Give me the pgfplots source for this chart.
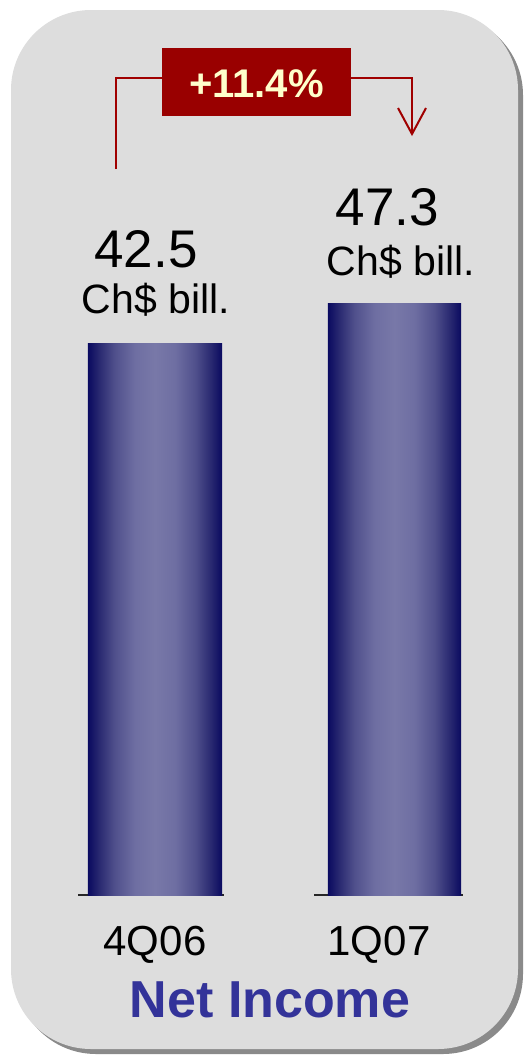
\documentclass[border=0pt]{standalone}
\usepackage{pgfplots}
\pgfplotsset{compat=1.18}
\usepackage{fontspec}
\setmainfont{Liberation Sans}
\definecolor{panel}{HTML}{DDDDDD}
\definecolor{shadowc}{HTML}{8A8A8A}
\definecolor{barEdge}{HTML}{0A0A60}
\definecolor{barA}{HTML}{282870}
\definecolor{barB}{HTML}{50508C}
\definecolor{barC}{HTML}{6E6EA2}
\definecolor{barMid}{HTML}{7878A8}
\definecolor{boxRed}{HTML}{990000}
\definecolor{lineRed}{HTML}{A00000}
\definecolor{cream}{HTML}{FFFFCC}
\definecolor{titleBlue}{HTML}{333399}
\pgfdeclarehorizontalshading{barshading}{100bp}{color(0bp)=(barEdge); color(25bp)=(barEdge); color(29bp)=(barA); color(35bp)=(barB); color(42.5bp)=(barC); color(50bp)=(barMid); color(57.5bp)=(barC); color(65bp)=(barB); color(71bp)=(barA); color(75bp)=(barEdge); color(100bp)=(barEdge)}
\pgfplotsset{
  netbar/.style={
    scale only axis, anchor=south west, clip=false,
    ymin=0, axis y line=none, axis x line*=bottom,
    x axis line style={-, black!85, line width=1.3pt},
    ytick=\empty, xtick={0}, major tick length=0pt,
    xticklabel style={font=\fontsize{42}{42}\selectfont, anchor=base, yshift=-60pt, inner sep=0pt},
  },
  barshade/.style={ybar, bar width=1, draw=none, shade, shading=barshading, shading angle=0},
}
\begin{document}
\begin{tikzpicture}[x=1pt,y=1pt]
\path[use as bounding box] (0,0) rectangle (525,-1055);
\fill[shadowc, rounded corners=80pt] (16,-15) rectangle (523,-1054);
\fill[panel, rounded corners=80pt] (11,-10) rectangle (518,-1049);

\begin{axis}[netbar, at={(78pt,-895pt)}, width=146pt, height=552pt,
  xmin=-0.5746, xmax=0.5149, ymax=42.5, xticklabels={4Q06}]
  \addplot[barshade] coordinates {(0,42.5)};
\end{axis}

\begin{axis}[netbar, at={(314pt,-895pt)}, width=149pt, height=592pt,
  xmin=-0.605, xmax=0.515, ymax=47.3, xticklabels={1Q07},
  xticklabel style={xshift=-15.5pt}]
  \addplot[barshade] coordinates {(0,47.3)};
\end{axis}

% value labels
\node[anchor=base, inner sep=0pt, font=\fontsize{53}{53}\selectfont] at (146,-267) {42.5};
\node[anchor=base, inner sep=0pt, font=\fontsize{41}{41}\selectfont] at (156,-313) {Ch\$ bill.};
\node[anchor=base, inner sep=0pt, font=\fontsize{53}{53}\selectfont] at (387.5,-225) {47.3};
\node[anchor=base, inner sep=0pt, font=\fontsize{41}{41}\selectfont] at (401,-275) {Ch\$ bill.};

% growth bracket
\draw[lineRed, line width=2pt] (116,-169) -- (116,-78) -- (162,-78);
\draw[lineRed, line width=2pt] (351,-78) -- (412,-78) -- (412,-134);
\draw[lineRed, line width=2pt] (398,-108) -- (412,-134) -- (426,-108);
\fill[boxRed] (162,-48) rectangle (351,-116);
\node[anchor=base, inner sep=0pt, text=cream, font=\fontsize{40}{40}\selectfont\bfseries] at (256.5,-97) {+11.4\%};

% title
\node[anchor=base, inner sep=0pt, text=titleBlue, font=\fontsize{52}{52}\selectfont\bfseries] at (270,-1017) {Net Income};
\end{tikzpicture}
\end{document}
